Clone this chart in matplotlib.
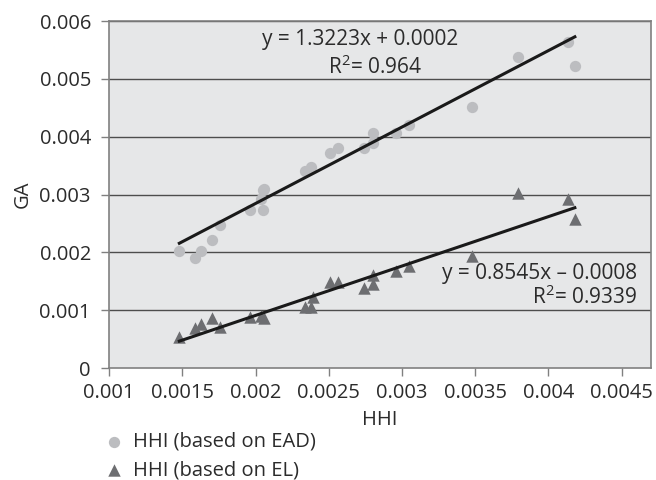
import numpy as np
import matplotlib
matplotlib.use('Agg')
import matplotlib.pyplot as plt
from matplotlib.ticker import FixedLocator, FixedFormatter

plt.rcParams['font.family'] = ['Open Sans', 'DejaVu Sans']
plt.rcParams['mathtext.fontset'] = 'custom'
plt.rcParams['mathtext.rm'] = 'Open Sans'

# HHI (based on EAD)
ead_x = [0.00148, 0.00159, 0.00163, 0.00170, 0.00176, 0.00196, 0.00205, 0.00204, 0.00205, 0.00206,
         0.00234, 0.00238, 0.00251, 0.00256, 0.00274, 0.00280, 0.00280, 0.00296, 0.00305, 0.00348,
         0.00379, 0.00413, 0.00418]
ead_y = [0.00203, 0.00191, 0.00203, 0.00221, 0.00247, 0.00273, 0.00273, 0.00292, 0.00307, 0.00310,
         0.00340, 0.00348, 0.00371, 0.00381, 0.00381, 0.00389, 0.00407, 0.00406, 0.00420, 0.00452,
         0.00537, 0.00563, 0.00522]

# HHI (based on EL)
el_x = [0.00148, 0.00159, 0.00163, 0.00170, 0.00176, 0.00196, 0.00204, 0.00206, 0.00234, 0.00238,
        0.00239, 0.00251, 0.00256, 0.00274, 0.00280, 0.00280, 0.00296, 0.00305, 0.00348, 0.00379,
        0.00413, 0.00418]
el_y = [0.00054, 0.00069, 0.00076, 0.00086, 0.00071, 0.00089, 0.00090, 0.00087, 0.00105, 0.00105,
        0.00122, 0.00148, 0.00148, 0.00139, 0.00145, 0.00161, 0.00168, 0.00176, 0.00194, 0.00302,
        0.00292, 0.00258]

# trend lines (Excel linear fits as shown on the chart)
ead_fit = (1.3223, 0.0002)
el_fit = (0.8545, -0.0008)

xticks = [0.001, 0.0015, 0.002, 0.0025, 0.003, 0.0035, 0.004, 0.0045]
xlabels = ['0.001', '0.0015', '0.002', '0.0025', '0.003', '0.0035', '0.004', '0.0045']
yticks = [0, 0.001, 0.002, 0.003, 0.004, 0.005, 0.006]
ylabels = ['0', '0.001', '0.002', '0.003', '0.004', '0.005', '0.006']

txt = '#2b2b2b'
fs = 14.5

fig = plt.figure(figsize=(6.56, 4.8), dpi=100)
ax = fig.add_axes([0.1662, 0.2333, 0.8262, 0.7229])
ax.set_facecolor('#e6e7e8')

for yv in yticks[1:]:
    ax.axhline(yv, color='#4d4d4d', lw=1.0, zorder=1)

c1 = ax.scatter(ead_x, ead_y, s=66, marker='o', color='#bcbdc0', lw=0, zorder=3,
                label='HHI (based on EAD)')
c2 = ax.scatter(el_x, el_y, s=80, marker='^', color='#6d6e71', lw=0, zorder=3,
                label='HHI (based on EL)')

xs = np.array([min(ead_x), max(ead_x)])
ax.plot(xs, ead_fit[0] * xs + ead_fit[1], color='#1a1a1a', lw=2.2, zorder=4)
xs = np.array([min(el_x), max(el_x)])
ax.plot(xs, el_fit[0] * xs + el_fit[1], color='#1a1a1a', lw=2.2, zorder=4)

ax.text(0.002712, 0.00568, 'y = 1.3223x + 0.0002', ha='center', va='center', fontsize=15, color=txt)
ax.text(0.002814, 0.00520, 'R$^2$= 0.964', ha='center', va='center', fontsize=15, color=txt)
ax.text(0.004608, 0.00164, 'y = 0.8545x \u2013 0.0008', ha='right', va='center', fontsize=15, color=txt)
ax.text(0.004608, 0.00123, 'R$^2$= 0.9339', ha='right', va='center', fontsize=15, color=txt)

ax.set_xlim(0.001, 0.0047)
ax.set_ylim(0, 0.006)
ax.xaxis.set_major_locator(FixedLocator(xticks))
ax.xaxis.set_major_formatter(FixedFormatter(xlabels))
ax.yaxis.set_major_locator(FixedLocator(yticks))
ax.yaxis.set_major_formatter(FixedFormatter(ylabels))
ax.tick_params(axis='both', colors='#808080', labelcolor=txt, labelsize=fs, length=6, width=1)
ax.tick_params(axis='x', pad=5)
ax.tick_params(axis='y', pad=7)
for sp in ax.spines.values():
    sp.set_color('#808080')
    sp.set_linewidth(1.2)

ax.set_xlabel('HHI', fontsize=fs, color=txt, labelpad=5)
ax.set_ylabel('GA', fontsize=fs, color=txt, labelpad=5)

ax.legend(handles=[c1, c2], loc='upper left', bbox_to_anchor=(0.14, 0.121),
          bbox_transform=fig.transFigure, frameon=False, fontsize=fs,
          handletextpad=0.35, labelspacing=0.42, borderpad=0, handlelength=1.2,
          labelcolor=txt)

fig.savefig('out.png', dpi=100)
